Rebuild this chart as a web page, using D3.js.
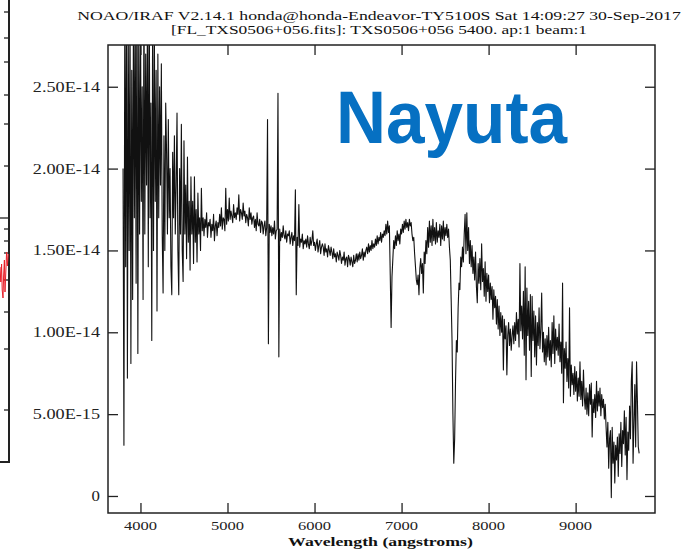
<!DOCTYPE html>
<html>
<head>
<meta charset="utf-8">
<script src="https://cdn.jsdelivr.net/npm/d3@7"></script>
<style>
  body { margin: 0; background: #fff; }
  svg { display: block; }
</style>
</head>
<body>
<div id="container"></div>
<script>
// container window size
let cwW = 689;
let cwH = 549;

// plot frame
const frame = {left: 108, right: 655, top: 45, bottom: 513};

// header lines
const titleLines = [
  "NOAO/IRAF V2.14.1 honda@honda-Endeavor-TY5100S Sat 14:09:27 30-Sep-2017",
  "[FL_TXS0506+056.fits]: TXS0506+056 5400. ap:1 beam:1"
];
const xLabel = "Wavelength (angstroms)";
const stampText = "Nayuta";

// axes
const xDomain = [3627, 9912];
const yDomain = [-1.04, 27.55];          // flux in 1e-15 units
const xTicks = [4000, 5000, 6000, 7000, 8000, 9000];
const yTicks = [0, 5, 10, 15, 20, 25];
const yTickLabels = ["0", "5.00E-15", "1.00E-14", "1.50E-14", "2.00E-14", "2.50E-14"];

// spectrum: first wavelength, step (angstroms), flux values (1e-15 erg/s/cm2/A)
const waveStart = 3800;
const waveStep = 10;
const flux = [
  // 3800
  20, 3.1, 30, 14, 32, 7.2, 28, 15, 30, 8.1,
  26, 12, 31, 17, 29, 13, 33, 8.7, 28, 16,
  // 4000
  30, 18, 25, 12, 31, 16, 27, 19, 29, 14,
  32, 17, 24, 9.5, 30, 15, 28, 18, 26, 11.3,
  27, 17, 25, 19, 26.4, 16, 12.4, 22, 15, 24,
  21, 16, 23, 17, 20, 14, 12.3, 21, 17, 22,
  16, 19, 23.4, 15, 12.3, 20, 16, 22.7, 15, 13.1,
  21.7, 16, 19, 14.5, 20.7, 15.5, 18, 13.8, 19.5, 16,
  18, 14.2, 19.5, 15.5, 17.5, 14.3, 18.5, 16, 17, 15,
  18.8, 16.2, 17.0, 15.9, 16.9, 16.4, 17.3, 15.8, 16.7, 16.5,
  16.9, 15.8, 16.6, 16.2, 17.2, 15.6, 16.5, 16.8, 15.9, 16.7,
  16.4, 17.2, 16.5, 17.6, 16.3, 17.0, 16.9, 16.2, 18.8, 16.6,
  // 5000
  17.5, 16.8, 18.2, 16.9, 17.4, 17.1, 16.7, 17.8, 17.0, 17.3,
  16.9, 17.6, 17.2, 18.4, 16.8, 17.5, 17.3, 16.9, 17.9, 17.1,
  17.4, 16.7, 17.2, 17.0, 16.5, 17.6, 16.9, 17.3, 16.6, 17.0,
  17.1, 16.4, 16.9, 16.2, 17.3, 16.6, 16.5, 16.9, 16.1, 16.8,
  16.7, 16.0, 16.5, 16.8, 15.9, 16.4, 23.0, 9.3, 16.6, 16.1,
  16.5, 15.9, 16.4, 16.0, 16.8, 15.7, 16.2, 16.3, 24.6, 8.5,
  16.3, 15.6, 16.1, 15.8, 16.5, 15.9, 15.7, 16.2, 15.5, 16.0,
  15.9, 16.2, 15.4, 15.8, 16.1, 15.3, 15.9, 15.6, 18.7, 12.3,
  15.8, 15.3, 17.8, 15.2, 15.7, 15.5, 16.0, 15.1, 15.6, 15.4,
  15.7, 15.2, 15.9, 15.4, 15.1, 15.8, 15.3, 15.6, 16.2, 15.3,
  // 6000
  15.5, 15.0, 15.4, 15.7, 14.9, 15.3, 15.6, 14.8, 15.2, 15.4,
  15.2, 14.7, 15.4, 14.9, 15.1, 14.6, 15.3, 15.0, 14.7, 15.2,
  14.9, 14.5, 15.1, 14.6, 14.8, 14.3, 14.9, 14.7, 14.4, 15.0,
  14.7, 14.2, 14.6, 14.4, 14.9, 14.1, 14.5, 14.6, 14.0, 14.7,
  14.5, 14.1, 14.6, 14.3, 14.0, 14.7, 14.2, 14.4, 14.8, 14.3,
  14.8, 14.4, 14.9, 14.5, 14.7, 15.1, 14.4, 14.9, 14.6, 15.0,
  15.2, 14.8, 15.4, 14.9, 15.3, 15.0, 15.6, 15.1, 15.4, 15.2,
  15.7, 15.3, 15.9, 15.4, 15.8, 15.6, 16.1, 15.5, 16.0, 15.8,
  16.2, 15.9, 16.6, 16.0, 16.8, 16.1, 16.5, 13.5, 10.3, 13.4,
  14.5, 15.6, 15.1, 15.9, 15.3, 16.2, 15.6, 16.0, 15.4, 16.3,
  // 7000
  16.0, 16.6, 16.1, 16.8, 16.3, 16.9, 16.4, 16.7, 16.2, 16.9,
  16.5, 16.7, 16.0, 15.6, 15.8, 14.8, 14.0, 13.2, 12.9, 13.5,
  12.3, 13.9, 14.5, 13.6, 14.2, 12.4, 14.9, 14.2, 15.6, 14.8,
  16.4, 15.2, 16.8, 15.5, 16.5, 15.3, 16.9, 15.6, 16.4, 15.4,
  16.7, 15.5, 16.2, 15.8, 16.6, 15.3, 16.5, 15.7, 16.8, 15.6,
  16.4, 15.9, 16.6, 15.8, 16.3, 15.2, 14.4, 12.0, 9.5, 5.0,
  2.0, 3.5, 7.0, 9.5, 8.8, 11.5, 13.0, 12.6, 14.6, 14.0,
  15.2, 14.3, 16.0, 17.2, 14.8, 17.3, 15.0, 16.4, 14.2, 15.6,
  14.0, 15.3, 13.6, 14.6, 13.2, 14.9, 12.8, 11.8, 14.2, 13.0,
  14.5, 12.6, 15.4, 13.1, 13.9, 12.2, 14.3, 11.9, 13.6, 12.5,
  // 8000
  13.5, 11.8, 13.0, 12.0, 12.8, 10.8, 12.6, 11.5, 12.2, 10.5,
  12.0, 10.2, 11.6, 9.8, 11.2, 10.0, 11.0, 7.7, 10.8, 9.6,
  10.4, 7.4, 9.8, 10.6, 9.2, 10.2, 8.9, 9.8, 10.4, 9.3,
  10.6, 9.5, 11.2, 9.9, 10.8, 9.1, 14.2, 10.1, 11.6, 9.6,
  12.5, 8.6, 14.0, 7.1, 12.7, 9.8, 11.9, 8.9, 12.3, 7.3,
  12.2, 9.5, 11.3, 8.5, 11.0, 8.0, 10.6, 9.2, 11.5, 9.0,
  10.2, 12.4, 8.8, 10.0, 8.2, 9.6, 8.0, 9.8, 8.5, 10.3,
  8.3, 9.5, 7.9, 10.6, 8.7, 11.0, 8.1, 10.2, 8.9, 9.7,
  8.6, 10.5, 8.2, 9.4, 7.5, 13.0, 5.7, 9.0, 7.8, 9.4,
  7.0, 8.4, 6.6, 11.5, 6.1, 8.0, 6.8, 7.5, 6.2, 7.9,
  // 9000
  6.4, 7.6, 5.8, 7.2, 6.1, 8.2, 5.9, 7.0, 5.5, 7.7,
  6.0, 5.3, 6.6, 5.0, 6.3, 4.9, 6.8, 5.6, 6.9, 3.6,
  5.9, 5.1, 6.2, 4.8, 7.0, 5.2, 6.4, 5.5, 6.6, 4.9,
  6.2, 5.4, 5.9, 4.7, 5.6, 4.2, 3.0, 4.5, 1.7, 3.5,
  4.0, -0.1, 4.2, 2.0, 3.3, 0.8, 3.1, 2.2, 3.6, 1.2,
  3.8, 2.6, 4.5, 1.8, 4.0, 3.2, 5.2, 2.5, 4.8, 1.0,
  3.9, 2.8, 5.5, 3.5, 7.0, 8.2, 2.0, 4.5, 6.8, 3.0,
  8.2, 5.8, 3.0, 2.6
];

// neighbouring panel cut at the left edge (its own units)
const sideTicks = [45, 42.4, 40, 36.7, 33.8, 29.6, 24.4, 23.3, 22.1, 20.9, 18.2, 15, 11.3, 5.2];
const sideMajor = [24.4];
const sideTraceX = [0, 0.8, 1.6, 2.2, 3.0, 3.6, 4.4, 5.0, 5.8, 6.6, 7.4, 8.2];
const sideTraceY = [19.5, 18.0, 19.8, 17.2, 16.4, 18.6, 20.2, 17.0, 19.0, 21.0, 19.6, 20.8];

//create SVG container
let svgArea = d3.select("#container")
                .append("svg")
                .attr("width", cwW)
                .attr("height", cwH)
                .style("font-family", "'Liberation Serif', 'DejaVu Serif', serif");

let xScale = d3.scaleLinear().domain(xDomain).range([frame.left, frame.right]);
let yScale = d3.scaleLinear().domain(yDomain).range([frame.bottom, frame.top]);

/**************************
* Spectrum
**************************/
svgArea.append("clipPath")
       .attr("id", "plotclip")
       .append("rect")
       .attr("x", frame.left)
       .attr("y", frame.top)
       .attr("width", frame.right - frame.left)
       .attr("height", frame.bottom - frame.top);

let spectrum = flux.map(function(d, i){ return {w: waveStart + i*waveStep, f: d}; });

let line = d3.line()
             .x(function(d){ return xScale(d.w); })
             .y(function(d){ return yScale(d.f); });

svgArea.append("path")
       .datum(spectrum)
       .attr("clip-path", "url(#plotclip)")
       .attr("d", line)
       .attr("fill", "none")
       .attr("stroke", "#111")
       .attr("stroke-width", 1.1)
       .attr("stroke-linejoin", "round");

/**************************
* Frame and ticks (inward, all four sides)
**************************/
const tickLen = 10;

svgArea.append("rect")
       .attr("x", frame.left)
       .attr("y", frame.top)
       .attr("width", frame.right - frame.left)
       .attr("height", frame.bottom - frame.top)
       .attr("fill", "none")
       .attr("stroke", "#222")
       .attr("stroke-width", 1.5);

svgArea.append("g")
       .attr("transform", "translate(0," + frame.bottom + ")")
       .call(d3.axisTop(xScale).tickValues(xTicks).tickSize(tickLen).tickFormat(""))
       .call(function(g){ g.select(".domain").remove(); });
svgArea.append("g")
       .attr("transform", "translate(0," + frame.top + ")")
       .call(d3.axisBottom(xScale).tickValues(xTicks).tickSize(tickLen).tickFormat(""))
       .call(function(g){ g.select(".domain").remove(); });
svgArea.append("g")
       .attr("transform", "translate(" + frame.left + ",0)")
       .call(d3.axisRight(yScale).tickValues(yTicks).tickSize(tickLen).tickFormat(""))
       .call(function(g){ g.select(".domain").remove(); });
svgArea.append("g")
       .attr("transform", "translate(" + frame.right + ",0)")
       .call(d3.axisLeft(yScale).tickValues(yTicks).tickSize(tickLen).tickFormat(""))
       .call(function(g){ g.select(".domain").remove(); });

svgArea.selectAll(".tick line").attr("stroke", "#222").attr("stroke-width", 1.3);

// tick labels
svgArea.append("g")
       .selectAll("text")
       .data(xTicks)
       .enter()
       .append("text")
       .attr("x", function(d){ return xScale(d); })
       .attr("y", 530)
       .attr("text-anchor", "middle")
       .attr("font-size", 13)
       .attr("textLength", 33)
       .attr("lengthAdjust", "spacingAndGlyphs")
       .attr("fill", "#222")
       .text(function(d){ return d; });

svgArea.append("g")
       .selectAll("text")
       .data(yTicks)
       .enter()
       .append("text")
       .attr("x", 100)
       .attr("y", function(d){ return yScale(d) + 5; })
       .attr("text-anchor", "end")
       .attr("font-size", 14)
       .attr("textLength", function(d, i){ return yTickLabels[i].length * 8.4; })
       .attr("lengthAdjust", "spacingAndGlyphs")
       .attr("fill", "#222")
       .text(function(d, i){ return yTickLabels[i]; });

svgArea.append("text")
       .attr("x", (frame.left + frame.right)/2 - 1)
       .attr("y", 546)
       .attr("text-anchor", "middle")
       .attr("font-size", 13.5)
       .attr("font-weight", "bold")
       .attr("textLength", xLabel.length * 8.4)
       .attr("lengthAdjust", "spacingAndGlyphs")
       .attr("fill", "#111")
       .text(xLabel);

// header
const titleWidth = [8.5, 8.0];
svgArea.append("g")
       .selectAll("text")
       .data(titleLines)
       .enter()
       .append("text")
       .attr("x", 379)
       .attr("y", function(d, i){ return 20 + i*13.5; })
       .attr("text-anchor", "middle")
       .attr("font-size", 11.5)
       .attr("textLength", function(d, i){ return d.length * titleWidth[i]; })
       .attr("lengthAdjust", "spacingAndGlyphs")
       .attr("fill", "#111")
       .text(function(d){ return d; });

// stamp
svgArea.append("text")
       .attr("x", 336)
       .attr("y", 143)
       .attr("font-family", "'Liberation Sans', Arial, sans-serif")
       .attr("font-weight", "bold")
       .attr("font-size", 74)
       .attr("textLength", 231)
       .attr("lengthAdjust", "spacingAndGlyphs")
       .attr("fill", "#0670c2")
       .text(stampText);

/**************************
* Cut-off panel on the left edge
**************************/
let sideY = d3.scaleLinear().domain([0, 46.2]).range([462, 0]);
let sideX = d3.scaleLinear().domain([0, 9]).range([0, 9]);

let side = svgArea.append("g");
side.append("path")
    .attr("d", "M0," + sideY(0) + "H" + sideX(9) + "V0")
    .attr("fill", "none")
    .attr("stroke", "#222")
    .attr("stroke-width", 2);
side.selectAll("line.sidetick")
    .data(sideTicks)
    .enter()
    .append("line")
    .attr("class", "sidetick")
    .attr("x1", function(d){ return sideMajor.indexOf(d) >= 0 ? sideX(0) : sideX(4); })
    .attr("x2", sideX(9))
    .attr("y1", function(d){ return sideY(d); })
    .attr("y2", function(d){ return sideY(d); })
    .attr("stroke", "#222")
    .attr("stroke-width", 1.3);
side.append("path")
    .datum(sideTraceX.map(function(d, i){ return [d, sideTraceY[i]]; }))
    .attr("d", d3.line().x(function(d){ return sideX(d[0]); }).y(function(d){ return sideY(d[1]); }))
    .attr("fill", "none")
    .attr("stroke", "#e8202a")
    .attr("stroke-width", 1);
</script>
</body>
</html>
